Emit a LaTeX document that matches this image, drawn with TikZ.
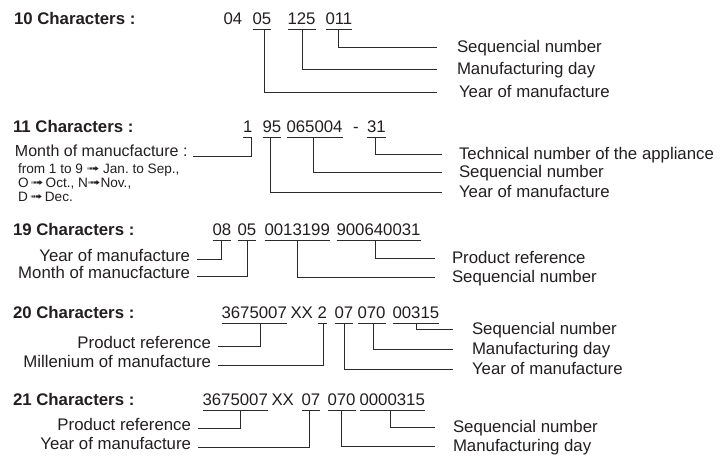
\documentclass[tikz,border=0pt]{standalone}
\usepackage{fontspec}
\setmainfont{Liberation Sans}
\newfontfamily\arrowfont{DejaVu Sans}
\definecolor{txtc}{HTML}{231F20}
\definecolor{linec}{HTML}{2B2B2B}
\newcommand{\bigf}{\fontsize{16.8}{20}\selectfont}
\newcommand{\midf}{\fontsize{16}{19}\selectfont}
\newcommand{\smallf}{\fontsize{13.6}{15}\selectfont}
\newcommand{\myarr}{\raisebox{0.3pt}{\scalebox{1}[0.75]{\arrowfont\fontsize{15}{16}\selectfont ➟}}}
\newcommand{\undl}[1]{\draw[ln] ([yshift=-5pt]#1.base west) -- ([yshift=-5pt]#1.base east);}
\frenchspacing
\tikzset{
  bse/.style={inner sep=0pt, outer sep=0pt, text=txtc},
  ttl/.style={bse, anchor=base west, font=\bfseries\bigf},
  grp/.style={bse, anchor=base west, font=\bigf},
  rlab/.style={bse, anchor=base west, font=\bigf, inner xsep=18pt, text height=10pt, text depth=0pt},
  llab/.style={bse, anchor=base east, font=\bigf, inner xsep=7pt, text height=3pt, text depth=0pt},
  ln/.style={draw=linec, line width=1pt},
}
\begin{document}
\begin{tikzpicture}[x=1pt,y=-1pt]
\fill[white] (0,0) rectangle (724,461);
\useasboundingbox (0,0) rectangle (724,461);

% ---------- 10 characters
\node[ttl] (t1) at (14,24.5) {10 Characters :};
\node[grp] (a04) at (223.5,24.5) {04};
\node[grp] (a05) at (252.5,24.5) {05};
\node[grp] (a125) at (287.5,24.5) {125};
\node[grp] (a011) at (325.5,24.5) {011};
\node[rlab, inner xsep=20pt] (ra1) at (437,52) {Sequencial number};
\node[rlab, inner xsep=20pt] (ra2) at (437,74.5) {Manufacturing day};
\node[rlab, inner xsep=22pt] (ra3) at (437,97) {Year of manufacture};
\undl{a05}\undl{a125}\undl{a011}
\draw[ln] ([yshift=-5pt]a011.base) |- (ra1.west);
\draw[ln] ([xshift=1pt,yshift=-5pt]a125.base) |- (ra2.west);
\draw[ln] ([xshift=2.5pt,yshift=-5pt]a05.base) |- (ra3.west);

% ---------- 11 characters
\node[ttl] (t2) at (13,132) {11 Characters :};
\node[grp] (b1) at (243,132) {1};
\node[grp] (b95) at (262.5,132) {95};
\node[grp] (b065) at (286.5,132) {065004};
\node[grp] (bdash) at (353,132) {-};
\node[grp] (b31) at (367,132) {31};
\node[bse, anchor=base west, font=\midf] (bm) at (15,156.5) {Month of manucfacture :};
\node[bse, anchor=base west, font=\smallf] (bs1) at (18,173) {from 1 to 9 \myarr{} Jan. to Sep.,};
\node[bse, anchor=base west, font=\smallf] (bs2) at (18,187) {O\,\myarr{}\,Oct., N\myarr{}Nov.,};
\node[bse, anchor=base west, font=\smallf] (bs3) at (18,201) {D\,\myarr{}\,Dec.};
\node[rlab, inner xsep=17pt] (rb1) at (442,159) {Technical number of the appliance};
\node[rlab, inner xsep=17pt] (rb2) at (442,177) {Sequencial number};
\node[rlab, inner xsep=17pt] (rb3) at (442,197) {Year of manufacture};
\undl{b1}\undl{b95}\undl{b065}\undl{b31}
\draw[ln] ([xshift=-1pt,yshift=-5pt]b1.base east) |- ([xshift=5pt]bm.base east);
\draw[ln] ([xshift=-1pt,yshift=-5pt]b31.base) |- (rb1.west);
\draw[ln] ([xshift=-1.5pt,yshift=-5pt]b065.base) |- (rb2.west);
\draw[ln] ([xshift=-1.5pt,yshift=-5pt]b95.base) |- (rb3.west);

% ---------- 19 characters
\node[ttl] (t3) at (13,235) {19 Characters :};
\node[grp] (c08) at (212.5,235) {08};
\node[grp] (c05) at (237.5,235) {05};
\node[grp] (c001) at (264.5,235) {0013199};
\node[grp] (c900) at (336.5,235) {900640031};
\node[llab] (lc1) at (197,261) {Year of manufacture};
\node[llab] (lc2) at (197,278) {Month of manucfacture};
\node[rlab, inner xsep=17pt] (rc1) at (435,263) {Product reference};
\node[rlab, inner xsep=17pt] (rc2) at (435,282) {Sequencial number};
\undl{c08}\undl{c05}\undl{c001}\undl{c900}
\draw[ln] ([yshift=-5pt]c08.base) |- (lc1.east);
\draw[ln] ([xshift=1pt,yshift=-5pt]c05.base) |- (lc2.east);
\draw[ln] ([xshift=-3.5pt,yshift=-5pt]c900.base) |- (rc1.west);
\draw[ln] ([yshift=-5pt]c001.base) |- (rc2.west);

% ---------- 20 characters
\node[ttl] (t4) at (13,318) {20 Characters :};
\node[grp] (d367) at (221.5,318) {3675007};
\node[grp] (dxx) at (290.5,318) {XX};
\node[grp] (d2) at (317.5,318) {2};
\node[grp] (d07) at (334.5,318) {07};
\node[grp] (d070) at (357.5,318) {070};
\node[grp] (d003) at (392.5,318) {00315};
\node[llab] (ld1) at (218,348) {Product reference};
\node[llab] (ld2) at (218,367) {Millenium of manufacture};
\node[rlab, inner xsep=19pt] (rd1) at (453,334) {Sequencial number};
\node[rlab, inner xsep=19pt] (rd2) at (453,354) {Manufacturing day};
\node[rlab, inner xsep=19pt] (rd3) at (453,374) {Year of manufacture};
\undl{d367}\undl{d2}\undl{d07}\undl{d070}\undl{d003}
\draw[ln] ([xshift=6pt,yshift=-5pt]d367.base) |- (ld1.east);
\draw[ln] ([xshift=1pt,yshift=-5pt]d2.base) |- (ld2.east);
\draw[ln] ([xshift=1pt,yshift=-5pt]d003.base) |- (rd1.west);
\draw[ln] ([xshift=1.5pt,yshift=-5pt]d070.base) |- (rd2.west);
\draw[ln] ([xshift=1pt,yshift=-5pt]d07.base) |- (rd3.west);

% ---------- 21 characters
\node[ttl] (t5) at (13,405) {21 Characters :};
\node[grp] (e367) at (202.5,405) {3675007};
\node[grp] (exx) at (271.5,405) {XX};
\node[grp] (e07) at (301.5,405) {07};
\node[grp] (e070) at (327.5,405) {070};
\node[grp] (e000) at (359.5,405) {0000315};
\node[llab] (le1) at (198,430) {Product reference};
\node[llab] (le2) at (198,449) {Year of manufacture};
\node[rlab, inner xsep=18pt] (re1) at (435,432) {Sequencial number};
\node[rlab, inner xsep=18pt] (re2) at (435,451.5) {Manufacturing day};
\undl{e367}\undl{e07}\undl{e070}\undl{e000}
\draw[ln] ([xshift=5pt,yshift=-5pt]e367.base) |- (le1.east);
\draw[ln] ([xshift=-1pt,yshift=-5pt]e07.base) |- (le2.east);
\draw[ln] ([xshift=-2pt,yshift=-5pt]e000.base) |- (re1.west);
\draw[ln] ([yshift=-5pt]e070.base) |- (re2.west);
\end{tikzpicture}
\end{document}
